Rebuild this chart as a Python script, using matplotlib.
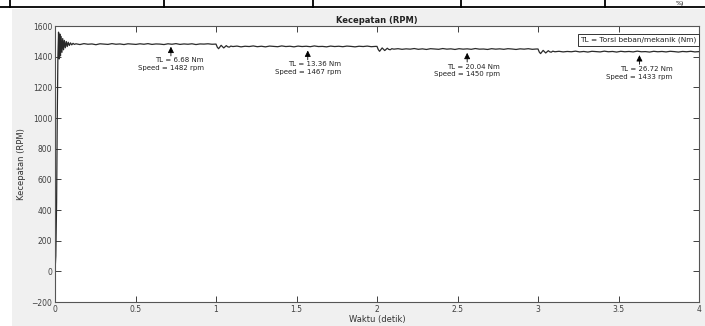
import numpy as np
import matplotlib.pyplot as plt
from matplotlib.patches import Rectangle

# start-up transient (t [s], speed [rpm])
t_start = [0.000, 0.005, 0.010, 0.014, 0.018, 0.022, 0.026, 0.030, 0.034, 0.038,
           0.043, 0.048, 0.053, 0.058, 0.064, 0.070, 0.076, 0.082, 0.089, 0.096,
           0.104, 0.112, 0.120]
v_start = [0, 100, 450, 1000, 1400, 1560, 1385, 1548, 1405, 1532,
           1428, 1518, 1445, 1506, 1458, 1499, 1466, 1494, 1473, 1490,
           1477, 1487, 1480]

# steady ripple, TL = 6.68 Nm (0.125 .. 0.975 s)
v_seg1 = [1484, 1479, 1485, 1481, 1483, 1478, 1484, 1482, 1480, 1485,
          1481, 1483, 1479, 1484, 1482, 1480, 1484, 1481, 1485, 1480,
          1483, 1482, 1479, 1484, 1481, 1485, 1480, 1483, 1481, 1484,
          1479, 1483, 1482, 1484, 1481]

# load step at 1 s
t_step1 = [1.000, 1.008, 1.016, 1.024, 1.032, 1.040, 1.048, 1.056, 1.064, 1.072, 1.082, 1.092]
v_step1 = [1482, 1462, 1452, 1463, 1474, 1466, 1457, 1465, 1472, 1465, 1462, 1469]
v_seg2 = [1466, 1469, 1464, 1468, 1466, 1470, 1465, 1468, 1464, 1469,
          1467, 1465, 1470, 1466, 1468, 1464, 1469, 1466, 1468, 1465,
          1470, 1466, 1467, 1464, 1469, 1466, 1468, 1465, 1469, 1467,
          1464, 1468, 1466, 1469, 1465, 1467]

# load step at 2 s
t_step2 = [2.000, 2.008, 2.016, 2.024, 2.032, 2.040, 2.048, 2.056, 2.064, 2.072, 2.082, 2.092]
v_step2 = [1467, 1446, 1435, 1446, 1457, 1449, 1440, 1448, 1455, 1448, 1445, 1452]
v_seg3 = [1449, 1452, 1448, 1451, 1449, 1453, 1448, 1451, 1447, 1452,
          1450, 1448, 1453, 1449, 1451, 1447, 1452, 1449, 1451, 1448,
          1453, 1449, 1450, 1447, 1452, 1449, 1451, 1448, 1452, 1450,
          1447, 1451, 1449, 1452, 1448, 1450]

# load step at 3 s
t_step3 = [3.000, 3.008, 3.016, 3.024, 3.032, 3.040, 3.048, 3.056, 3.064, 3.072, 3.082, 3.092]
v_step3 = [1450, 1430, 1420, 1430, 1441, 1433, 1424, 1432, 1439, 1432, 1429, 1436]
v_seg4 = [1432, 1435, 1431, 1434, 1432, 1436, 1431, 1434, 1430, 1435,
          1433, 1431, 1436, 1432, 1434, 1430, 1435, 1432, 1434, 1431,
          1436, 1432, 1433, 1430, 1435, 1432, 1434, 1431, 1435, 1433,
          1430, 1434, 1432, 1435, 1431, 1433]

t = np.concatenate([
    t_start, np.linspace(0.13, 0.975, len(v_seg1)),
    t_step1, np.linspace(1.105, 1.99, len(v_seg2)),
    t_step2, np.linspace(2.105, 2.99, len(v_seg3)),
    t_step3, np.linspace(3.105, 4.0, len(v_seg4)),
])
v = np.concatenate([v_start, v_seg1, v_step1, v_seg2, v_step2, v_seg3, v_step3, v_seg4])

# annotations
arrow_t = [0.72, 1.57, 2.56, 3.63]
arrow_tip = [1465, 1440, 1425, 1410]
arrow_tail = [1405, 1380, 1365, 1350]
tl_labels = ["TL = 6.68 Nm", "TL = 13.36 Nm", "TL = 20.04 Nm", "TL = 26.72 Nm"]
speed_labels = ["Speed = 1482 rpm", "Speed = 1467 rpm", "Speed = 1450 rpm", "Speed = 1433 rpm"]

fig = plt.figure(figsize=(7.05, 3.26), dpi=100)
fig.patch.set_facecolor('white')

# gray window background + document table fragment at the top
fig.patches.append(Rectangle((12/705, 0), 1, 317/326, transform=fig.transFigure,
                             facecolor='#f0f0f0', edgecolor='none', zorder=-10))
fig.add_artist(plt.Line2D([0, 1], [319/326, 319/326], transform=fig.transFigure,
                          color='black', lw=1.3))
for xp in [10, 164, 313, 461, 605]:
    fig.add_artist(plt.Line2D([xp/705, xp/705], [319/326, 1], transform=fig.transFigure,
                              color='black', lw=1.3))
fig.text(680/705, 322.8/326, "%)", fontsize=4.5, va='center', ha='center', color='black')

ax = fig.add_axes([55/705, 24/326, 644/705, 276/326])
ax.set_zorder(5)
ax.set_facecolor('white')
ax.plot(t, v, color='#2a2a2a', lw=0.9)

ax.set_xlim(0, 4)
ax.set_ylim(-200, 1600)
ax.set_xticks(np.arange(0, 4.01, 0.5))
ax.set_xticklabels(['0', '0.5', '1', '1.5', '2', '2.5', '3', '3.5', '4'])
ax.set_yticks(np.arange(-200, 1601, 200))
ax.tick_params(direction='in', length=4, width=0.7, top=True, right=True,
               labelsize=5.5, colors='#404040', pad=2)
for s in ax.spines.values():
    s.set_color('#555555')
    s.set_linewidth(0.8)

ax.set_title("Kecepatan (RPM)", fontsize=6, fontweight='bold', color='#222222', pad=2)
ax.set_xlabel("Waktu (detik)", fontsize=6, color='#333333', labelpad=1)
ax.set_ylabel("Kecepatan (RPM)", fontsize=6, color='#333333', labelpad=4)

for i in range(4):
    ax.annotate('', xy=(arrow_t[i], arrow_tip[i]), xytext=(arrow_t[i], arrow_tail[i]),
                arrowprops=dict(arrowstyle='-|>', color='black', lw=0.6,
                                mutation_scale=9, shrinkA=0, shrinkB=0))
    ax.text(arrow_t[i] + 0.205, arrow_tail[i] - 10, tl_labels[i] + "\n" + speed_labels[i],
            ha='right', va='top', multialignment='right', fontsize=5,
            color='#222222', linespacing=1.35)

ax.text(0.9965, 0.95, "TL = Torsi beban/mekanik (Nm)", transform=ax.transAxes,
        ha='right', va='center', fontsize=5.3, color='#222222',
        bbox=dict(boxstyle='square,pad=0.35', facecolor='white', edgecolor='#333333', lw=0.7))

fig.savefig('out.png', dpi=100, facecolor=fig.get_facecolor())
